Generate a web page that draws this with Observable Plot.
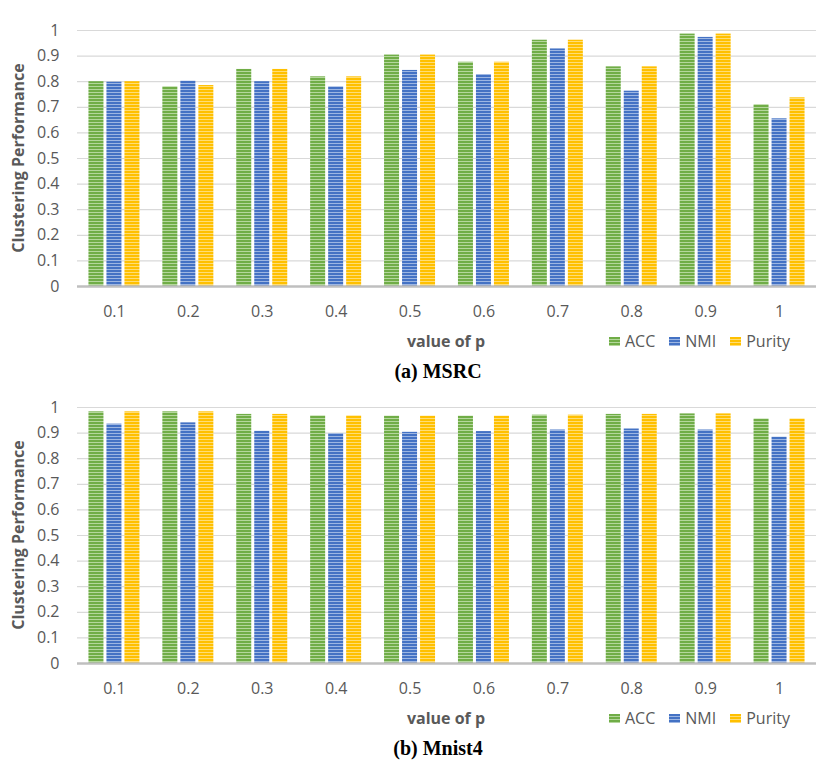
<!DOCTYPE html>
<html>
<head>
<meta charset="utf-8">
<script src="https://cdn.jsdelivr.net/npm/d3@7"></script>
<script src="https://cdn.jsdelivr.net/npm/@observablehq/plot@0.6"></script>
<style>
  html, body { margin: 0; padding: 0; background: #fff; }
  body { width: 830px; height: 767px; overflow: hidden; font-family: "Open Sans", sans-serif; }
  .panel { position: relative; width: 830px; height: 377px; }
  .panel svg { position: absolute; left: 0; top: 0; }
  .panel svg text, .panel svg g { font-size: 16px !important; font-family: "Open Sans", sans-serif !important; }
  .ylab { position: absolute; left: 18px; top: 158px; transform: translate(-50%, -50%) rotate(-90deg);
          font: bold 16px "Open Sans", sans-serif; color: #595959; white-space: nowrap; }
  .xlab { position: absolute; left: 446px; top: 341px; transform: translate(-50%, -50%);
          font: bold 16px "Open Sans", sans-serif; color: #595959; white-space: nowrap; }
  .legend { position: absolute; left: 609px; top: 341px; transform: translateY(-50%);
            display: flex; align-items: center; font: 16px "Open Sans", sans-serif; color: #595959; white-space: nowrap; }
  .legend .sw { width: 11px; height: 9px; margin-right: 5px; }
  .legend .item { display: flex; align-items: center; margin-right: 14px; }
  .caption { position: absolute; left: 438px; top: 371px; transform: translate(-50%, -50%);
             font: bold 20px "Liberation Serif", "Times New Roman", serif; color: #000; white-space: nowrap; }
</style>
</head>
<body>
<div id="root"></div>
<script>
// ---- data ----
const ps = ["0.1", "0.2", "0.3", "0.4", "0.5", "0.6", "0.7", "0.8", "0.9", "1"];
const series = ["ACC", "NMI", "Purity"];
const yTicks = [0, 0.1, 0.2, 0.3, 0.4, 0.5, 0.6, 0.7, 0.8, 0.9, 1];

const msrcACC    = [0.800, 0.780, 0.848, 0.819, 0.904, 0.876, 0.962, 0.858, 0.986, 0.710];
const msrcNMI    = [0.798, 0.802, 0.800, 0.780, 0.844, 0.828, 0.928, 0.763, 0.973, 0.655];
const msrcPurity = [0.800, 0.785, 0.848, 0.819, 0.904, 0.876, 0.962, 0.858, 0.986, 0.737];

const mnistACC    = [0.983, 0.983, 0.973, 0.967, 0.966, 0.966, 0.970, 0.973, 0.975, 0.955];
const mnistNMI    = [0.935, 0.940, 0.907, 0.898, 0.903, 0.906, 0.912, 0.916, 0.912, 0.884];
const mnistPurity = [0.983, 0.983, 0.973, 0.967, 0.966, 0.966, 0.970, 0.973, 0.975, 0.955];

const captions = ["(a) MSRC", "(b) Mnist4"];

// ---- styles ----
const darkColors  = ["#70AD47", "#4472C4", "#FFC000"];
const lightColors = ["#B4D79C", "#9DB6E2", "#FFDD75"];

function buildData(arrs) {
  const rows = [];
  series.forEach((s, i) => ps.forEach((p, j) => rows.push({p, metric: s, value: arrs[i][j]})));
  return rows;
}

function makeChart(arrs, prefix) {
  const data = buildData(arrs);
  const svg = Plot.plot({
    width: 830,
    height: 330,
    marginTop: 30,
    marginBottom: 44,
    marginLeft: 77,
    marginRight: 14,
    style: {fontFamily: "Open Sans, sans-serif", fontSize: "16px", color: "#595959", background: "transparent", overflow: "visible"},
    x: {domain: ps, paddingInner: 0.31, paddingOuter: 0.155, round: false, label: null, tickSize: 0, tickPadding: 19},
    y: {domain: [0, 1], ticks: yTicks, tickFormat: d3.format("~g"), label: null, tickSize: 0, tickPadding: 18},
    marks: [
      Plot.ruleY(yTicks.filter(d => d > 0), {stroke: "#d9d9d9", strokeWidth: 1.2}),
      ...series.map((s, i) => Plot.barY(data.filter(d => d.metric === s), {
        x: "p", y: "value",
        fill: `url(#${prefix}-${i})`,
        insetLeft: i * 18, insetRight: (2 - i) * 18
      })),
      Plot.ruleY([0], {stroke: "#bfbfbf", strokeWidth: 2.5})
    ]
  });
  // patterns
  const ns = "http://www.w3.org/2000/svg";
  const defs = document.createElementNS(ns, "defs");
  darkColors.forEach((c, i) => {
    const pat = document.createElementNS(ns, "pattern");
    pat.setAttribute("id", `${prefix}-${i}`);
    pat.setAttribute("patternUnits", "userSpaceOnUse");
    pat.setAttribute("width", 4);
    pat.setAttribute("height", 3);
    const r1 = document.createElementNS(ns, "rect");
    r1.setAttribute("width", 4); r1.setAttribute("height", 3); r1.setAttribute("fill", c);
    const r2 = document.createElementNS(ns, "rect");
    r2.setAttribute("y", 2); r2.setAttribute("width", 4); r2.setAttribute("height", 1); r2.setAttribute("fill", lightColors[i]);
    pat.appendChild(r1); pat.appendChild(r2);
    defs.appendChild(pat);
  });
  svg.insertBefore(defs, svg.firstChild);
  return svg;
}

function makePanel(arrs, prefix, caption, extraHeight) {
  const panel = document.createElement("div");
  panel.className = "panel";
  panel.style.height = (377 + extraHeight) + "px";
  panel.appendChild(makeChart(arrs, prefix));

  const yl = document.createElement("div");
  yl.className = "ylab"; yl.textContent = "Clustering Performance";
  panel.appendChild(yl);

  const xl = document.createElement("div");
  xl.className = "xlab"; xl.textContent = "value of p";
  panel.appendChild(xl);

  const lg = document.createElement("div");
  lg.className = "legend";
  series.forEach((s, i) => {
    const item = document.createElement("div");
    item.className = "item";
    const sw = document.createElement("div");
    sw.className = "sw";
    sw.style.background = `repeating-linear-gradient(to bottom, ${darkColors[i]} 0px, ${darkColors[i]} 2px, ${lightColors[i]} 2px, ${lightColors[i]} 3px)`;
    const t = document.createElement("span");
    t.textContent = s;
    item.appendChild(sw); item.appendChild(t);
    lg.appendChild(item);
  });
  panel.appendChild(lg);

  const cap = document.createElement("div");
  cap.className = "caption"; cap.textContent = caption;
  panel.appendChild(cap);
  return panel;
}

const root = document.getElementById("root");
root.appendChild(makePanel([msrcACC, msrcNMI, msrcPurity], "msrc", captions[0], 0));
root.appendChild(makePanel([mnistACC, mnistNMI, mnistPurity], "mnist", captions[1], 13));
</script>
</body>
</html>
